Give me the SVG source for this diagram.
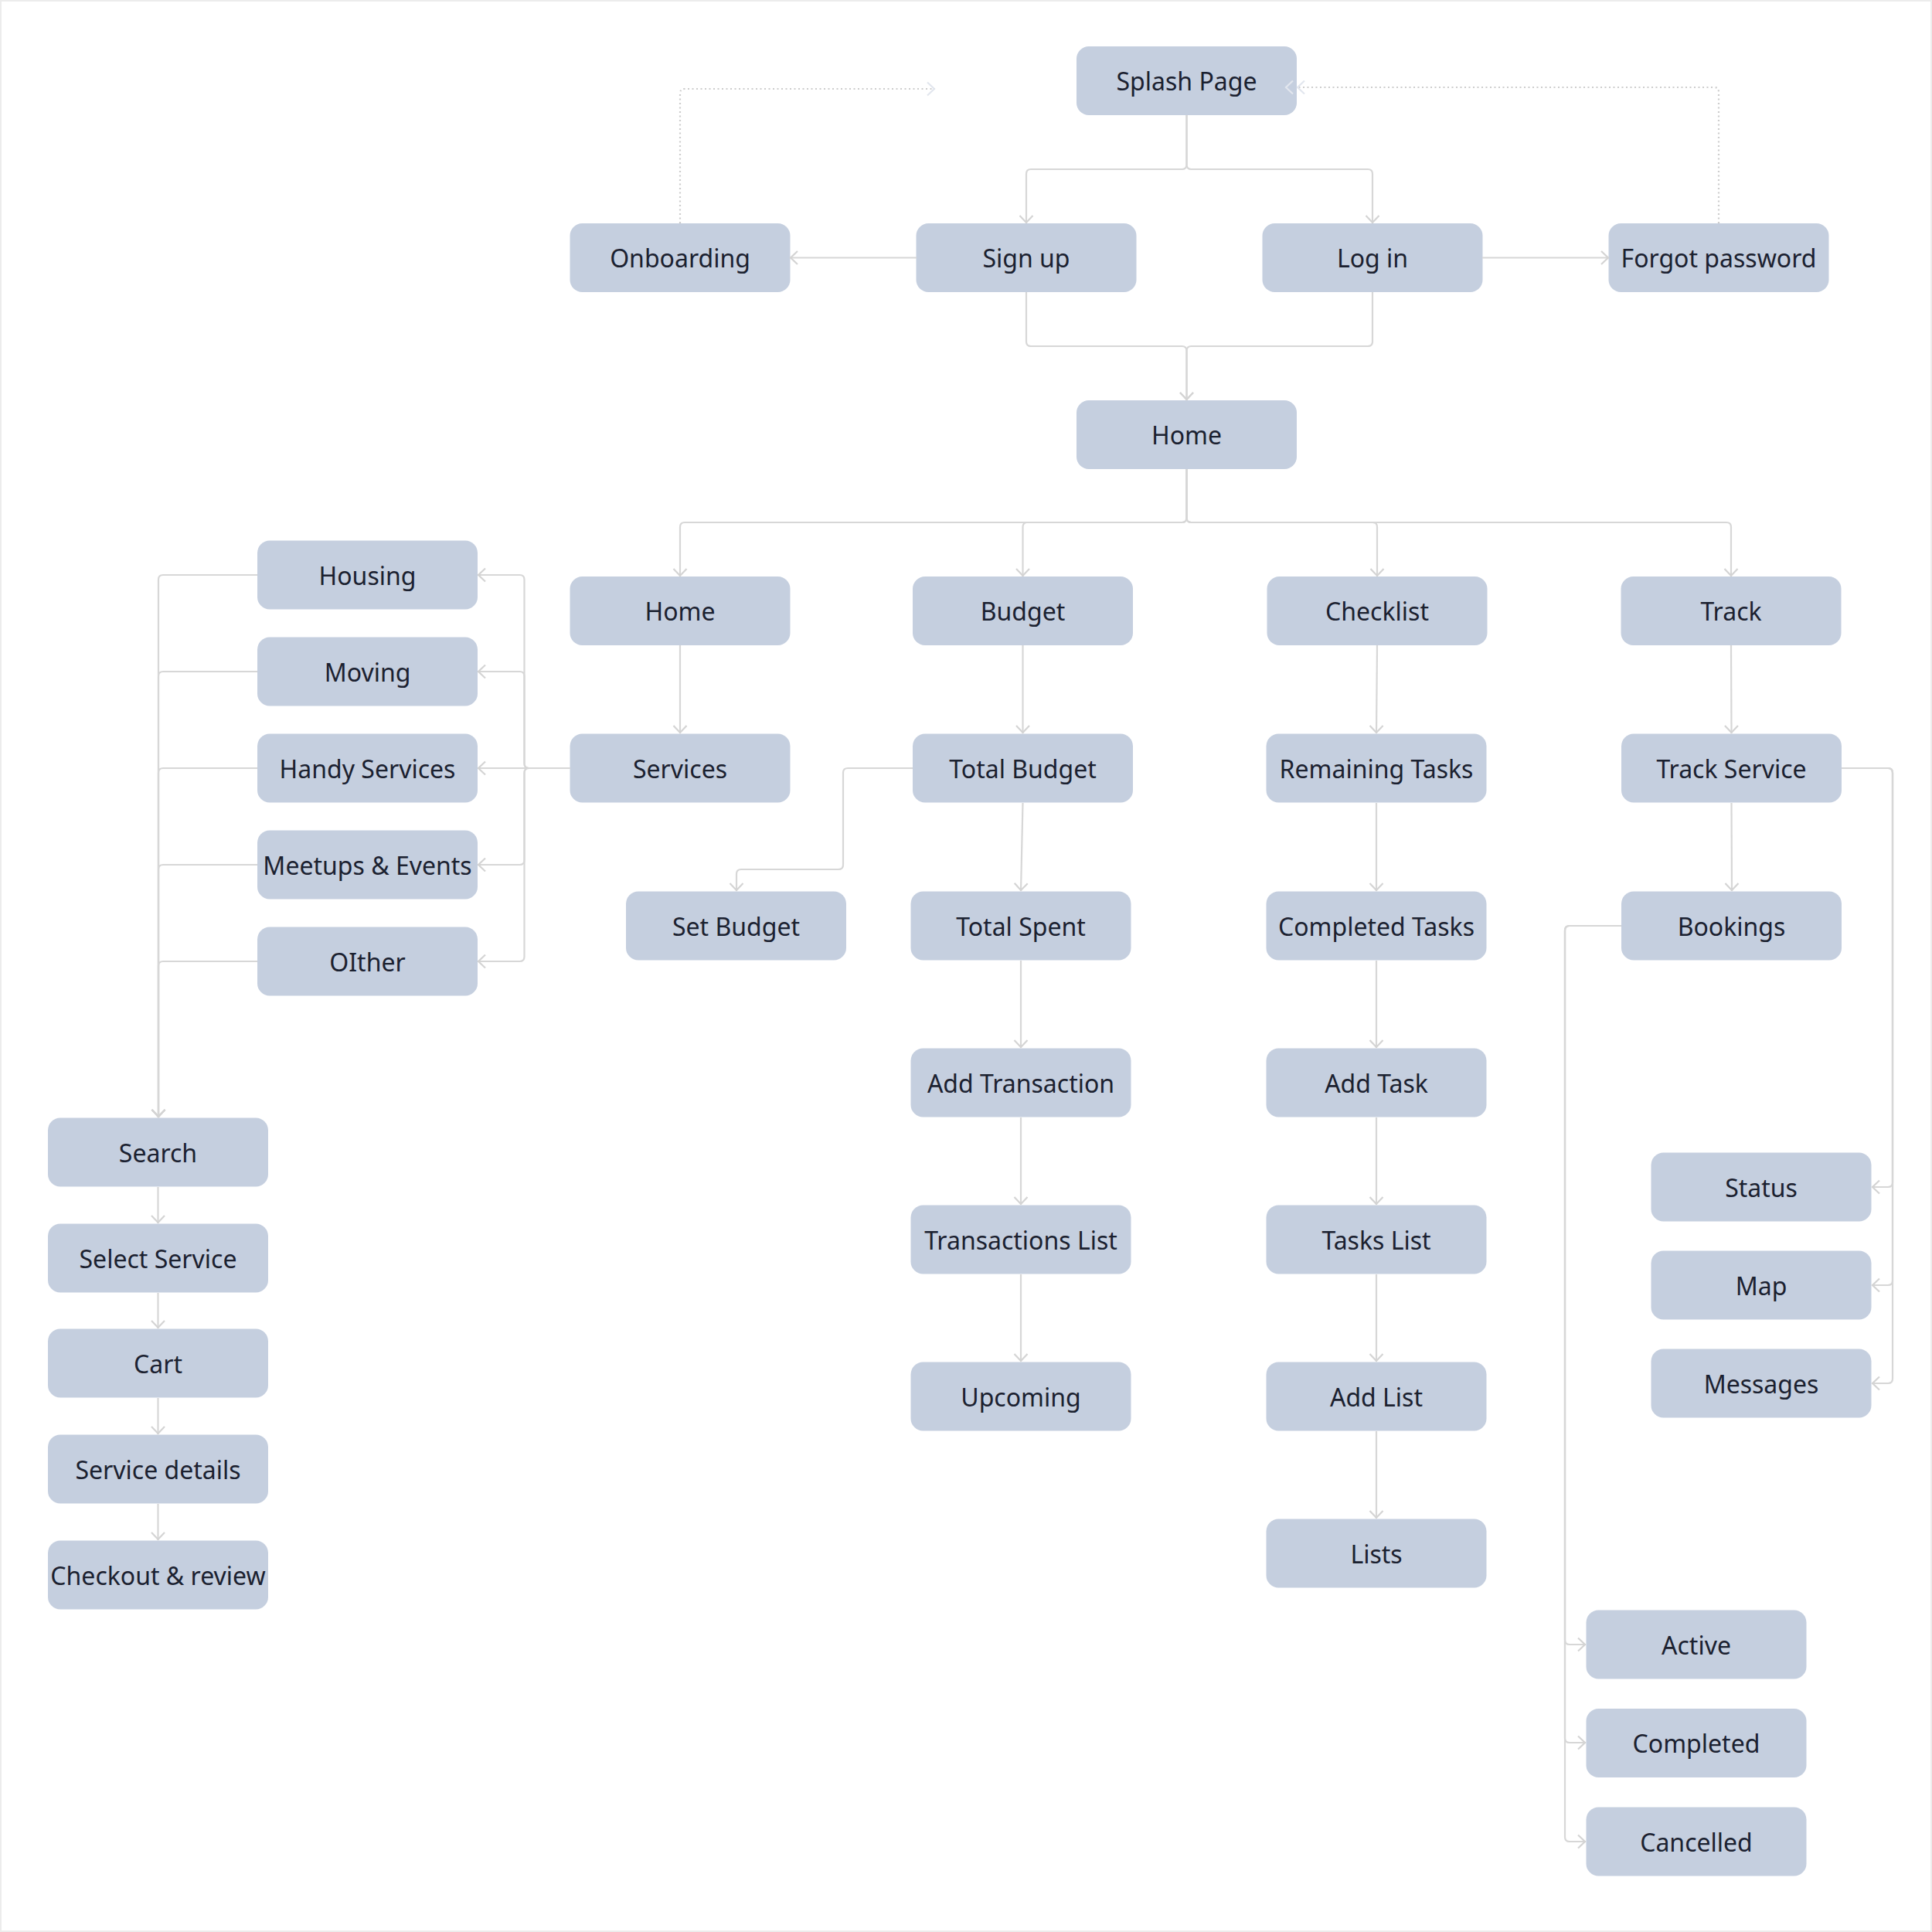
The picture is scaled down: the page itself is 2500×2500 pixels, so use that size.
<svg xmlns="http://www.w3.org/2000/svg" width="2500" height="2500" viewBox="0 0 2500 2500">
<defs>
<style>
.n rect{fill:#c5cfdf;}
.n text{font-family:"Noto Sans","Open Sans","DejaVu Sans",sans-serif;font-size:32px;fill:#1b2130;text-anchor:middle;}
.c path{fill:none;stroke:#d7d7d7;stroke-width:2.2;marker-end:url(#a);}
.c path.d{stroke:#cdcdcd;stroke-dasharray:2 3.5;marker-end:url(#ad);}
</style>
<marker id="a" markerUnits="userSpaceOnUse" markerWidth="24" markerHeight="24" viewBox="-12 -12 24 24" refX="1" refY="0" orient="auto">
<path d="M-9,-8.5 L0,0 L-9,8.5" fill="none" stroke="#d4d4d4" stroke-width="2.2"/>
</marker>
<marker id="ad" markerUnits="userSpaceOnUse" markerWidth="24" markerHeight="24" viewBox="-12 -12 24 24" refX="1" refY="0" orient="auto">
<path d="M-9,-8.5 L0,0 L-9,8.5" fill="none" stroke="#e2e6ee" stroke-width="2.2"/>
</marker>
</defs>
<rect x="0" y="0" width="2500" height="2500" fill="#ffffff"/>
<rect x="1" y="1" width="2498" height="2498" fill="none" stroke="#ececec" stroke-width="2"/>

<g id="splash" class="n"><rect x="1393" y="60" width="285" height="89" rx="16"/><text x="1535.5" y="117">Splash Page</text></g>
<g id="onboarding" class="n"><rect x="737.5" y="289" width="285" height="89" rx="16"/><text x="880" y="346">Onboarding</text></g>
<g id="signup" class="n"><rect x="1185.5" y="289" width="285" height="89" rx="16"/><text x="1328" y="346">Sign up</text></g>
<g id="login" class="n"><rect x="1633.5" y="289" width="285" height="89" rx="16"/><text x="1776" y="346">Log in</text></g>
<g id="forgot" class="n"><rect x="2081.5" y="289" width="285" height="89" rx="16"/><text x="2224" y="346">Forgot password</text></g>
<g id="home" class="n"><rect x="1393" y="518" width="285" height="89" rx="16"/><text x="1535.5" y="575">Home</text></g>

<g id="home2" class="n"><rect x="737.5" y="746" width="285" height="89" rx="16"/><text x="880" y="803">Home</text></g>
<g id="budget" class="n"><rect x="1181" y="746" width="285" height="89" rx="16"/><text x="1323.5" y="803">Budget</text></g>
<g id="checklist" class="n"><rect x="1639.5" y="746" width="285" height="89" rx="16"/><text x="1782" y="803">Checklist</text></g>
<g id="track" class="n"><rect x="2097.5" y="746" width="285" height="89" rx="16"/><text x="2240" y="803">Track</text></g>

<g id="services" class="n"><rect x="737.5" y="949.5" width="285" height="89" rx="16"/><text x="880" y="1007">Services</text></g>
<g id="totalbudget" class="n"><rect x="1181" y="949.5" width="285" height="89" rx="16"/><text x="1323.5" y="1007">Total Budget</text></g>
<g id="remaining" class="n"><rect x="1638.5" y="949.5" width="285" height="89" rx="16"/><text x="1781" y="1007">Remaining Tasks</text></g>
<g id="trackservice" class="n"><rect x="2098" y="949.5" width="285" height="89" rx="16"/><text x="2240.5" y="1007">Track Service</text></g>

<g id="setbudget" class="n"><rect x="810" y="1153.5" width="285" height="89" rx="16"/><text x="952.5" y="1211">Set Budget</text></g>
<g id="totalspent" class="n"><rect x="1178.5" y="1153.5" width="285" height="89" rx="16"/><text x="1321" y="1211">Total Spent</text></g>
<g id="completedtasks" class="n"><rect x="1638.5" y="1153.5" width="285" height="89" rx="16"/><text x="1781" y="1211">Completed Tasks</text></g>
<g id="bookings" class="n"><rect x="2098" y="1153.5" width="285" height="89" rx="16"/><text x="2240.5" y="1211">Bookings</text></g>

<g id="addtransaction" class="n"><rect x="1178.5" y="1356.5" width="285" height="89" rx="16"/><text x="1321" y="1414">Add Transaction</text></g>
<g id="addtask" class="n"><rect x="1638.5" y="1356.5" width="285" height="89" rx="16"/><text x="1781" y="1414">Add Task</text></g>
<g id="transactionslist" class="n"><rect x="1178.5" y="1559.5" width="285" height="89" rx="16"/><text x="1321" y="1617">Transactions List</text></g>
<g id="taskslist" class="n"><rect x="1638.5" y="1559.5" width="285" height="89" rx="16"/><text x="1781" y="1617">Tasks List</text></g>
<g id="upcoming" class="n"><rect x="1178.5" y="1762.5" width="285" height="89" rx="16"/><text x="1321" y="1820">Upcoming</text></g>
<g id="addlist" class="n"><rect x="1638.5" y="1762.5" width="285" height="89" rx="16"/><text x="1781" y="1820">Add List</text></g>
<g id="lists" class="n"><rect x="1638.5" y="1965.5" width="285" height="89" rx="16"/><text x="1781" y="2023">Lists</text></g>

<g id="housing" class="n"><rect x="333" y="699.5" width="285" height="89" rx="16"/><text x="475.5" y="757">Housing</text></g>
<g id="moving" class="n"><rect x="333" y="824.5" width="285" height="89" rx="16"/><text x="475.5" y="882">Moving</text></g>
<g id="handy" class="n"><rect x="333" y="949.5" width="285" height="89" rx="16"/><text x="475.5" y="1007">Handy Services</text></g>
<g id="meetups" class="n"><rect x="333" y="1074.5" width="285" height="89" rx="16"/><text x="475.5" y="1132">Meetups &amp; Events</text></g>
<g id="other" class="n"><rect x="333" y="1199.5" width="285" height="89" rx="16"/><text x="475.5" y="1257">OIther</text></g>

<g id="search" class="n"><rect x="62" y="1446.5" width="285" height="89" rx="16"/><text x="204.5" y="1504">Search</text></g>
<g id="selectservice" class="n"><rect x="62" y="1583.5" width="285" height="89" rx="16"/><text x="204.5" y="1641">Select Service</text></g>
<g id="cart" class="n"><rect x="62" y="1719.5" width="285" height="89" rx="16"/><text x="204.5" y="1777">Cart</text></g>
<g id="servicedetails" class="n"><rect x="62" y="1856.5" width="285" height="89" rx="16"/><text x="204.5" y="1914">Service details</text></g>
<g id="checkout" class="n"><rect x="62" y="1993.5" width="285" height="89" rx="16"/><text x="204.5" y="2051">Checkout &amp; review</text></g>

<g id="status" class="n"><rect x="2136.5" y="1491.5" width="285" height="89" rx="16"/><text x="2279" y="1549">Status</text></g>
<g id="map" class="n"><rect x="2136.5" y="1618.5" width="285" height="89" rx="16"/><text x="2279" y="1676">Map</text></g>
<g id="messages" class="n"><rect x="2136.5" y="1745.5" width="285" height="89" rx="16"/><text x="2279" y="1803">Messages</text></g>

<g id="active" class="n"><rect x="2052.5" y="2083.5" width="285" height="89" rx="16"/><text x="2195" y="2141">Active</text></g>
<g id="completed" class="n"><rect x="2052.5" y="2211" width="285" height="89" rx="16"/><text x="2195" y="2268">Completed</text></g>
<g id="cancelled" class="n"><rect x="2052.5" y="2338.5" width="285" height="89" rx="16"/><text x="2195" y="2396">Cancelled</text></g>

<g id="connectors" class="c">
<path d="M1535.5,149 V213 Q1535.5,219 1529.5,219 H1334 Q1328,219 1328,225 V289"/>
<path d="M1535.5,149 V213 Q1535.5,219 1541.5,219 H1770 Q1776,219 1776,225 V289"/>
<path d="M1186,333.5 H1022"/>
<path d="M1918,333.5 H2082"/>
<path d="M1328,378 V442 Q1328,448 1334,448 H1529.5 Q1535.5,448 1535.5,454 V518"/>
<path d="M1776,378 V442 Q1776,448 1770,448 H1541.5 Q1535.5,448 1535.5,454 V518"/>
<path class="d" d="M880,289 V121 Q880,115 886,115 H1210"/>
<path class="d" d="M2224,289 V119 Q2224,113 2218,113 H1678"/>
<path d="M1678,113 H1663" style="stroke:none;marker-end:url(#ad)"/>
<path d="M1535.5,607 V670 Q1535.5,676 1529.5,676 H886 Q880,676 880,682 V746"/>
<path d="M1535.5,607 V670 Q1535.5,676 1529.5,676 H1329.5 Q1323.5,676 1323.5,682 V746"/>
<path d="M1535.5,607 V670 Q1535.5,676 1541.5,676 H1776 Q1782,676 1782,682 V746"/>
<path d="M1535.5,607 V670 Q1535.5,676 1541.5,676 H2234 Q2240,676 2240,682 V746"/>
<path d="M880,835 V949"/>
<path d="M1323.5,835 V949"/>
<path d="M1782,835 L1781,949"/>
<path d="M2240,835 L2240.5,949"/>
<path d="M1323.5,1039 L1321,1153"/>
<path d="M1181,994 H1097 Q1091,994 1091,1000 V1119 Q1091,1125 1085,1125 H959 Q953,1125 953,1131 V1153"/>
<path d="M1321,1243 V1356"/>
<path d="M1321,1446 V1559"/>
<path d="M1321,1649 V1762"/>
<path d="M1781,1039 V1153"/>
<path d="M1781,1243 V1356"/>
<path d="M1781,1446 V1559"/>
<path d="M1781,1649 V1762"/>
<path d="M1781,1852 V1965"/>
<path d="M2240.5,1039 L2241,1153"/>
<path d="M2383,994 H2443 Q2449,994 2449,1000 V1530 Q2449,1536 2443,1536 H2422"/>
<path d="M2383,994 H2443 Q2449,994 2449,1000 V1657 Q2449,1663 2443,1663 H2422"/>
<path d="M2383,994 H2443 Q2449,994 2449,1000 V1784 Q2449,1790 2443,1790 H2422"/>
<path d="M2098,1198 H2031 Q2025,1198 2025,1204 V2122 Q2025,2128 2031,2128 H2052"/>
<path d="M2098,1198 H2031 Q2025,1198 2025,1204 V2249 Q2025,2255 2031,2255 H2052"/>
<path d="M2098,1198 H2031 Q2025,1198 2025,1204 V2377 Q2025,2383 2031,2383 H2052"/>
<path d="M737.5,994 H684.5 Q678.5,994 678.5,988 V750 Q678.5,744 672.5,744 H618"/>
<path d="M737.5,994 H684.5 Q678.5,994 678.5,988 V875 Q678.5,869 672.5,869 H618"/>
<path d="M737.5,994 H618"/>
<path d="M737.5,994 H684.5 Q678.5,994 678.5,1000 V1113 Q678.5,1119 672.5,1119 H618"/>
<path d="M737.5,994 H684.5 Q678.5,994 678.5,1000 V1238 Q678.5,1244 672.5,1244 H618"/>
<path d="M333,744 H211 Q205,744 205,750 V1446"/>
<path d="M333,869 H211 Q205,869 205,875 V1446"/>
<path d="M333,994 H211 Q205,994 205,1000 V1446"/>
<path d="M333,1119 H211 Q205,1119 205,1125 V1446"/>
<path d="M333,1244 H211 Q205,1244 205,1250 V1446"/>
<path d="M204.5,1536 V1583"/>
<path d="M204.5,1673 V1719"/>
<path d="M204.5,1809 V1856"/>
<path d="M204.5,1946 V1993"/>
</g>
</svg>
